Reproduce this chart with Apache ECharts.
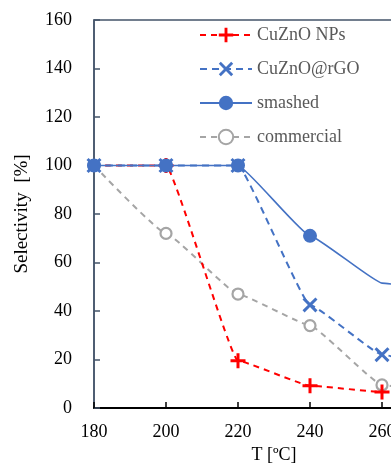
<!DOCTYPE html>
<html><head><meta charset="utf-8">
<script src="https://cdn.jsdelivr.net/npm/echarts@6/dist/echarts.min.js"></script>
<style>html,body{margin:0;padding:0;background:#fff}#c{width:391px;height:472px}</style>
</head><body><div id="c"></div>
<script>
var temps = [180, 200, 220, 240, 260, 280];
var npsValues = [100, 100, 19.5, 9.2, 6.6, 6];
var rgoValues = [100, 100, 100, 42.5, 22, 15];
var smashedValues = [100, 100, 100, 71, 51.5, 47];
var commercialValues = [100, 72, 47, 34, 9.5, 5];
var yTicks = [0, 20, 40, 60, 80, 100, 120, 140, 160];
var xTicks = [180, 200, 220, 240, 260, 280];

function pairs(vals, hideIdx) {
  return temps.map(function (t, i) {
    var d = { value: [t, vals[i]] };
    if (hideIdx && hideIdx.indexOf(i) >= 0) d.symbol = 'none';
    return d;
  });
}
var serif = '"Liberation Serif", "DejaVu Serif", serif';
var plusPath = 'path://M4,0H6V4H10V6H6V10H4V6H0V4H4Z';
var crossPath = 'path://M1.4,0L5,3.6L8.6,0L10,1.4L6.4,5L10,8.6L8.6,10L5,6.4L1.4,10L0,8.6L3.6,5L0,1.4Z';

var chart = echarts.init(document.getElementById('c'));
chart.setOption({
  animation: false,
  backgroundColor: '#fff',
  grid: { left: 94, top: 20, bottom: 64, right: -63, outerBoundsMode: 'none', containLabel: false,
    show: true, borderColor: '#44546A', borderWidth: 1.5, backgroundColor: 'transparent' },
  legend: {
    left: 194, top: 21, orient: 'vertical',
    itemWidth: 52, itemHeight: 18, itemGap: 16,
    textStyle: { fontFamily: serif, fontSize: 18, color: '#595959' },
    data: ['CuZnO NPs', 'CuZnO@rGO', 'smashed',
      { name: 'commercial', itemStyle: { color: '#fff', borderColor: '#A5A5A5', borderWidth: 2 } }]
  },
  xAxis: {
    type: 'value', min: 180, max: 280, interval: 20,
    name: 'T [ºC]', nameLocation: 'middle', nameGap: 37,
    nameTextStyle: { fontFamily: serif, fontSize: 18, color: '#000' },
    axisLine: { lineStyle: { color: '#000', width: 2 } },
    axisTick: { inside: true, length: 6, lineStyle: { color: '#000', width: 1.5 } },
    axisLabel: { fontFamily: serif, fontSize: 18, color: '#000', margin: 15,
      formatter: function (v) { return xTicks.indexOf(v) >= 0 ? String(v) : ''; } },
    splitLine: { show: false }
  },
  yAxis: {
    type: 'value', min: 0, max: 160, interval: 20,
    name: 'Selectivity  [%]', nameLocation: 'middle', nameGap: 62,
    nameTextStyle: { fontFamily: serif, fontSize: 19, color: '#000' },
    axisLine: { show: true, lineStyle: { color: '#44546A', width: 1.5 } },
    axisTick: { show: true, inside: true, length: 6, lineStyle: { color: '#44546A', width: 1.5 } },
    axisLabel: { fontFamily: serif, fontSize: 18, color: '#000', margin: 22,
      formatter: function (v) { return yTicks.indexOf(v) >= 0 ? String(v) : ''; } },
    splitLine: { show: false }
  },
  series: [
    { name: 'commercial', type: 'line', smooth: 0.1, smoothMonotone: 'x', data: pairs(commercialValues),
      symbol: 'circle', symbolSize: 11, z: 2,
      lineStyle: { color: '#A5A5A5', width: 2, type: [6, 5] },
      itemStyle: { color: '#fff', borderColor: '#A5A5A5', borderWidth: 2.2 } },
    { name: 'CuZnO NPs', type: 'line', smooth: 0.1, smoothMonotone: 'x', data: pairs(npsValues, [0]),
      symbol: plusPath, symbolSize: 15, z: 3,
      lineStyle: { color: '#FF0000', width: 2, type: [6, 5] },
      itemStyle: { color: '#FF0000' } },
    { name: 'CuZnO@rGO', type: 'line', smooth: 0.1, smoothMonotone: 'x', data: pairs(rgoValues),
      symbol: crossPath, symbolSize: 15, z: 4,
      lineStyle: { color: '#4472C4', width: 2, type: [7, 5] },
      itemStyle: { color: '#4472C4' } },
    { name: 'smashed', type: 'line', smooth: 0.1, smoothMonotone: 'x', data: pairs(smashedValues, [4]),
      symbol: 'circle', symbolSize: 14, z: 5,
      lineStyle: { color: '#4472C4', width: 1.6 },
      itemStyle: { color: '#4472C4' } }
  ]
});
</script></body></html>
